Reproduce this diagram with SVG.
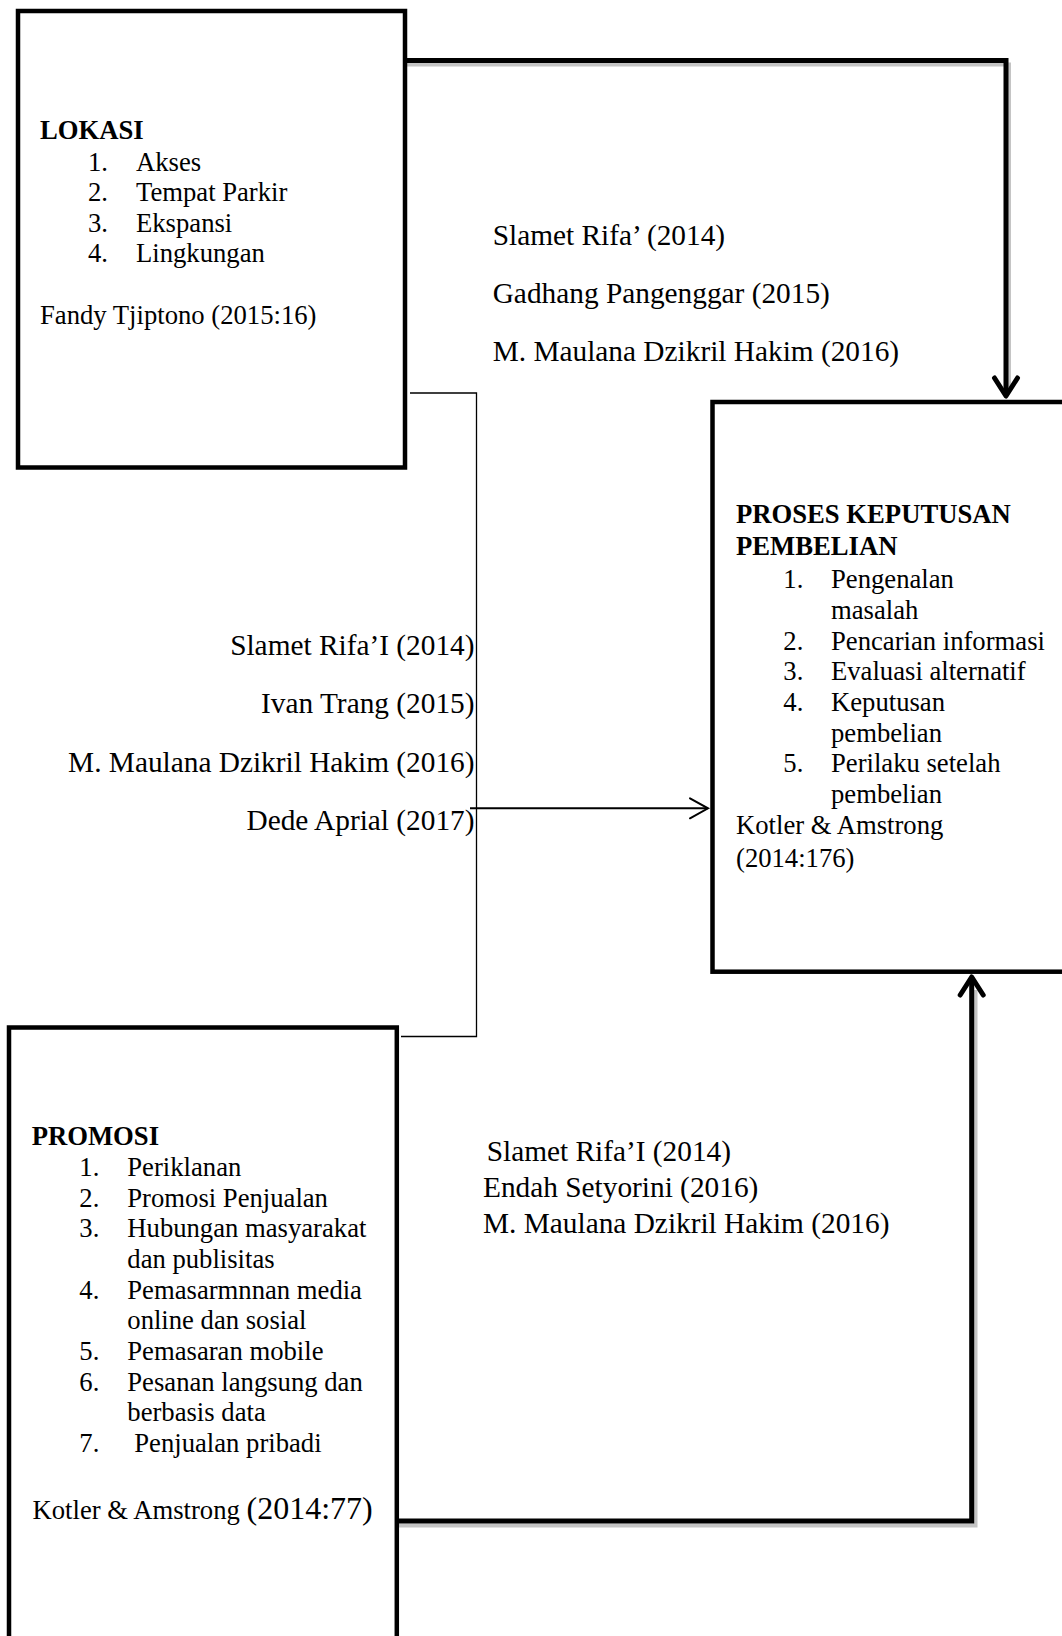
<svg xmlns="http://www.w3.org/2000/svg" width="1062" height="1636" viewBox="0 0 1062 1636">
<style>
  text { font-family: "Liberation Serif", "Times New Roman", serif; fill: #000; }
  .t { font-size: 26.67px; }
  .b { font-size: 26.67px; font-weight: bold; }
  .cite { font-size: 29.33px; }
  .box { fill: none; stroke: #000; stroke-width: 4.5; }
  .thick { fill: none; stroke: #000; stroke-width: 5; stroke-linejoin: miter; }
  .shadow { fill: none; stroke: #c4c4c4; stroke-width: 4; }
  .thin { fill: none; stroke: #000; stroke-width: 1.3; }
  .mid { fill: none; stroke: #000; stroke-width: 2; }
</style>
<defs>
  <marker id="arrowThick" markerUnits="userSpaceOnUse" markerWidth="30" markerHeight="30" viewBox="0 0 30 30" refX="22" refY="15" orient="auto">
    <path d="M4,3.5 L22,15 L4,26.5" fill="none" stroke="#000" stroke-width="5" stroke-linecap="round" stroke-linejoin="round"/>
  </marker>
  <marker id="arrowThin" markerUnits="userSpaceOnUse" markerWidth="24" markerHeight="24" viewBox="0 0 24 24" refX="20" refY="12" orient="auto">
    <path d="M2,2 L20,12 L2,22" fill="none" stroke="#000" stroke-width="2" stroke-linecap="round" stroke-linejoin="miter"/>
  </marker>
</defs>
<rect width="1062" height="1636" fill="#fff"/>

<g id="connectors">
  <path class="shadow" d="M407 64.5 H1009 V392"/>
  <path class="shadow" d="M399 1525.5 H975.5 V990"/>
  <path id="edge-lokasi-proses" class="thick" d="M405 60.5 H1006 V396" marker-end="url(#arrowThick)"/>
  <path id="edge-promosi-proses" class="thick" d="M397 1521 H971.7 V977" marker-end="url(#arrowThick)"/>
  <path id="bracket" class="thin" d="M410 393 H476.5 V1036.5 H401"/>
  <path id="edge-both-proses" class="mid" d="M470 808.3 H708" marker-end="url(#arrowThin)"/>
  <g id="label-top" class="cite">
    <text class="cite" x="492.7" y="245">Slamet Rifa’ (2014)</text>
    <text class="cite" x="492.7" y="303">Gadhang Pangenggar (2015)</text>
    <text class="cite" x="492.7" y="361">M. Maulana Dzikril Hakim (2016)</text>
  </g>
  <g id="label-middle">
    <text class="cite" x="474.5" y="655" text-anchor="end">Slamet Rifa’I (2014)</text>
    <text class="cite" x="474.5" y="713" text-anchor="end">Ivan Trang (2015)</text>
    <text class="cite" x="474.5" y="772" text-anchor="end">M. Maulana Dzikril Hakim (2016)</text>
    <text class="cite" x="474.5" y="830" text-anchor="end">Dede Aprial (2017)</text>
  </g>
  <g id="label-bottom">
    <text class="cite" x="486.7" y="1161">Slamet Rifa’I (2014)</text>
    <text class="cite" x="483" y="1197">Endah Setyorini (2016)</text>
    <text class="cite" x="483" y="1233">M. Maulana Dzikril Hakim (2016)</text>
  </g>
</g>

<g id="node-lokasi">
  <rect class="box" x="18" y="11" width="387" height="456.5"/>
  <text class="b" x="40" y="138.5">LOKASI</text>
  <text class="t" x="88" y="170.5">1.</text><text class="t" x="136" y="170.5">Akses</text>
  <text class="t" x="88" y="201">2.</text><text class="t" x="136" y="201">Tempat Parkir</text>
  <text class="t" x="88" y="231.5">3.</text><text class="t" x="136" y="231.5">Ekspansi</text>
  <text class="t" x="88" y="262">4.</text><text class="t" x="136" y="262">Lingkungan</text>
  <text class="t" x="40" y="324">Fandy Tjiptono (2015:16)</text>
</g>

<g id="node-proses">
  <rect class="box" x="712.5" y="402" width="400" height="569.7"/>
  <text class="b" x="736" y="523.3">PROSES KEPUTUSAN</text>
  <text class="b" x="736" y="555.3">PEMBELIAN</text>
  <text class="t" x="783.3" y="588.3">1.</text><text class="t" x="831" y="588.3">Pengenalan</text>
  <text class="t" x="831" y="619">masalah</text>
  <text class="t" x="783.3" y="649.7">2.</text><text class="t" x="831" y="649.7">Pencarian informasi</text>
  <text class="t" x="783.3" y="680.3">3.</text><text class="t" x="831" y="680.3">Evaluasi alternatif</text>
  <text class="t" x="783.3" y="711">4.</text><text class="t" x="831" y="711">Keputusan</text>
  <text class="t" x="831" y="741.7">pembelian</text>
  <text class="t" x="783.3" y="772.3">5.</text><text class="t" x="831" y="772.3">Perilaku setelah</text>
  <text class="t" x="831" y="803">pembelian</text>
  <text class="t" x="736" y="833.7">Kotler &amp; Amstrong</text>
  <text class="t" x="736" y="867">(2014:176)</text>
</g>

<g id="node-promosi">
  <rect class="box" x="9" y="1027.5" width="387.8" height="640"/>
  <text class="b" x="31.7" y="1145">PROMOSI</text>
  <text class="t" x="79.3" y="1176">1.</text><text class="t" x="127.3" y="1176">Periklanan</text>
  <text class="t" x="79.3" y="1206.7">2.</text><text class="t" x="127.3" y="1206.7">Promosi Penjualan</text>
  <text class="t" x="79.3" y="1237.3">3.</text><text class="t" x="127.3" y="1237.3">Hubungan masyarakat</text>
  <text class="t" x="127.3" y="1268">dan publisitas</text>
  <text class="t" x="79.3" y="1298.7">4.</text><text class="t" x="127.3" y="1298.7">Pemasarmnnan media</text>
  <text class="t" x="127.3" y="1329.3">online dan sosial</text>
  <text class="t" x="79.3" y="1360">5.</text><text class="t" x="127.3" y="1360">Pemasaran mobile</text>
  <text class="t" x="79.3" y="1390.7">6.</text><text class="t" x="127.3" y="1390.7">Pesanan langsung dan</text>
  <text class="t" x="127.3" y="1421.3">berbasis data</text>
  <text class="t" x="79.3" y="1452">7.</text><text class="t" x="134.3" y="1452">Penjualan pribadi</text>
  <text class="t" x="32.5" y="1519">Kotler &amp; Amstrong <tspan font-size="32">(2014:77)</tspan></text>
</g>
</svg>
